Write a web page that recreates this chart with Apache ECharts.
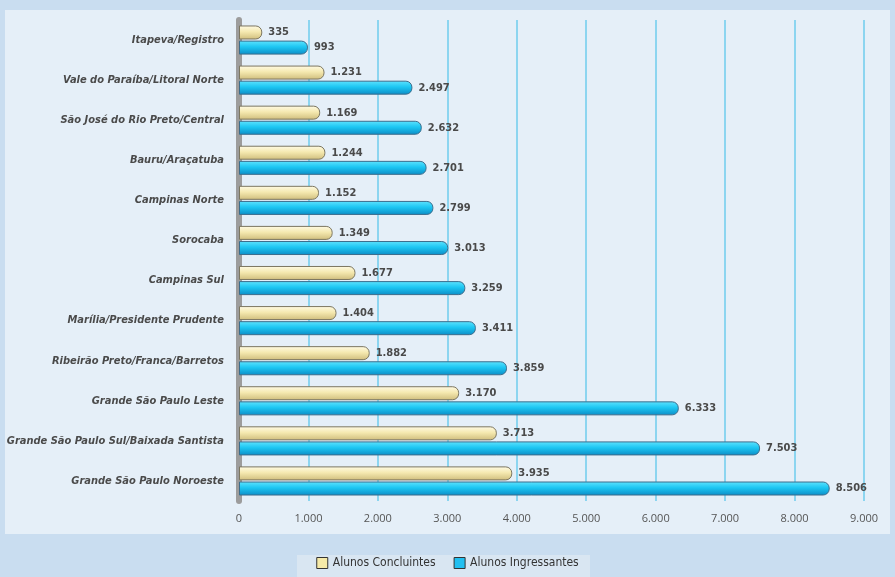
<!DOCTYPE html>
<html>
<head>
<meta charset="utf-8">
<script src="https://cdn.jsdelivr.net/npm/echarts@6/dist/echarts.min.js"></script>
<style>
  html, body { margin: 0; padding: 0; background: #c9ddf0; }
  #main { width: 895px; height: 577px; }
</style>
</head>
<body>
<div id="main"></div>
<script>
// regiões, de cima para baixo
const regioes = [
  'Itapeva/Registro',
  'Vale do Paraíba/Litoral Norte',
  'São José do Rio Preto/Central',
  'Bauru/Araçatuba',
  'Campinas Norte',
  'Sorocaba',
  'Campinas Sul',
  'Marília/Presidente Prudente',
  'Ribeirão Preto/Franca/Barretos',
  'Grande São Paulo Leste',
  'Grande São Paulo Sul/Baixada Santista',
  'Grande São Paulo Noroeste'
]
const concluintes = [335, 1231, 1169, 1244, 1152, 1349, 1677, 1404, 1882, 3170, 3713, 3935]
const ingressantes = [993, 2497, 2632, 2701, 2799, 3013, 3259, 3411, 3859, 6333, 7503, 8506]
const eixoMax = 9000
const eixoPasso = 1000

const fmt = v => v.toLocaleString('pt-BR')
const condensada = 'DejaVu Sans Condensed'

const chart = echarts.init(document.getElementById('main'))

const labelCfg = {
  show: true,
  position: 'right',
  distance: 6,
  formatter: p => fmt(p.value),
  fontFamily: condensada,
  fontWeight: 'bold',
  fontSize: 11,
  color: '#4a4a4a'
}

const option = {
  backgroundColor: '#c9ddf0',
  animation: false,
  graphic: [
    { type: 'rect', z: -10, shape: { x: 5, y: 10, width: 885, height: 524 }, style: { fill: '#e5eff8' } },
    { type: 'rect', z: -10, shape: { x: 297, y: 555, width: 293, height: 22 }, style: { fill: '#d9e6f2' } }
  ],
  legend: {
    bottom: 3,
    left: 'center',
    itemWidth: 11,
    itemHeight: 11,
    itemGap: 18,
    icon: 'rect',
    textStyle: { fontFamily: condensada, fontSize: 12, color: '#333' },
    data: [
      { name: 'Alunos Concluintes', itemStyle: { color: '#f6eaa8', borderColor: '#333', borderWidth: 1 } },
      { name: 'Alunos Ingressantes', itemStyle: { color: '#22bff0', borderColor: '#333', borderWidth: 1 } }
    ]
  },
  grid: { left: 239, right: 31, top: 20, bottom: 76, containLabel: false },
  xAxis: {
    type: 'value',
    min: 0,
    max: eixoMax,
    interval: eixoPasso,
    axisLine: { show: false },
    axisTick: { show: false },
    axisLabel: {
      formatter: v => fmt(v),
      fontFamily: 'Open Sans',
      fontSize: 11,
      color: '#555',
      margin: 12
    },
    splitLine: { lineStyle: { color: '#8cd5f0', width: 2 } }
  },
  yAxis: {
    type: 'category',
    inverse: true,
    data: regioes,
    axisLine: { show: true, lineStyle: { color: '#9c9c9c', width: 6 } },
    axisTick: { show: false },
    axisLabel: {
      fontFamily: condensada,
      fontWeight: 'bold',
      fontStyle: 'italic',
      fontSize: 11,
      color: '#4a4a4a',
      margin: 15
    }
  },
  series: [
    {
      name: 'Alunos Concluintes',
      type: 'bar',
      data: concluintes,
      barWidth: 14,
      barGap: '8%',
      itemStyle: {
        color: new echarts.graphic.LinearGradient(0, 0, 0, 1, [
          { offset: 0, color: '#fffbe6' },
          { offset: 0.45, color: '#f5e9b0' },
          { offset: 1, color: '#cfbd7c' }
        ]),
        borderColor: '#7c7660',
        borderWidth: 1,
        borderRadius: [0, 6, 6, 0]
      },
      label: labelCfg
    },
    {
      name: 'Alunos Ingressantes',
      type: 'bar',
      data: ingressantes,
      barWidth: 14,
      itemStyle: {
        color: new echarts.graphic.LinearGradient(0, 0, 0, 1, [
          { offset: 0, color: '#5fe3ff' },
          { offset: 0.45, color: '#1cc6f2' },
          { offset: 1, color: '#0c8cc6' }
        ]),
        borderColor: '#3c6d8c',
        borderWidth: 1,
        borderRadius: [0, 6, 6, 0]
      },
      label: labelCfg
    }
  ]
}

chart.setOption(option)
</script>
</body>
</html>
